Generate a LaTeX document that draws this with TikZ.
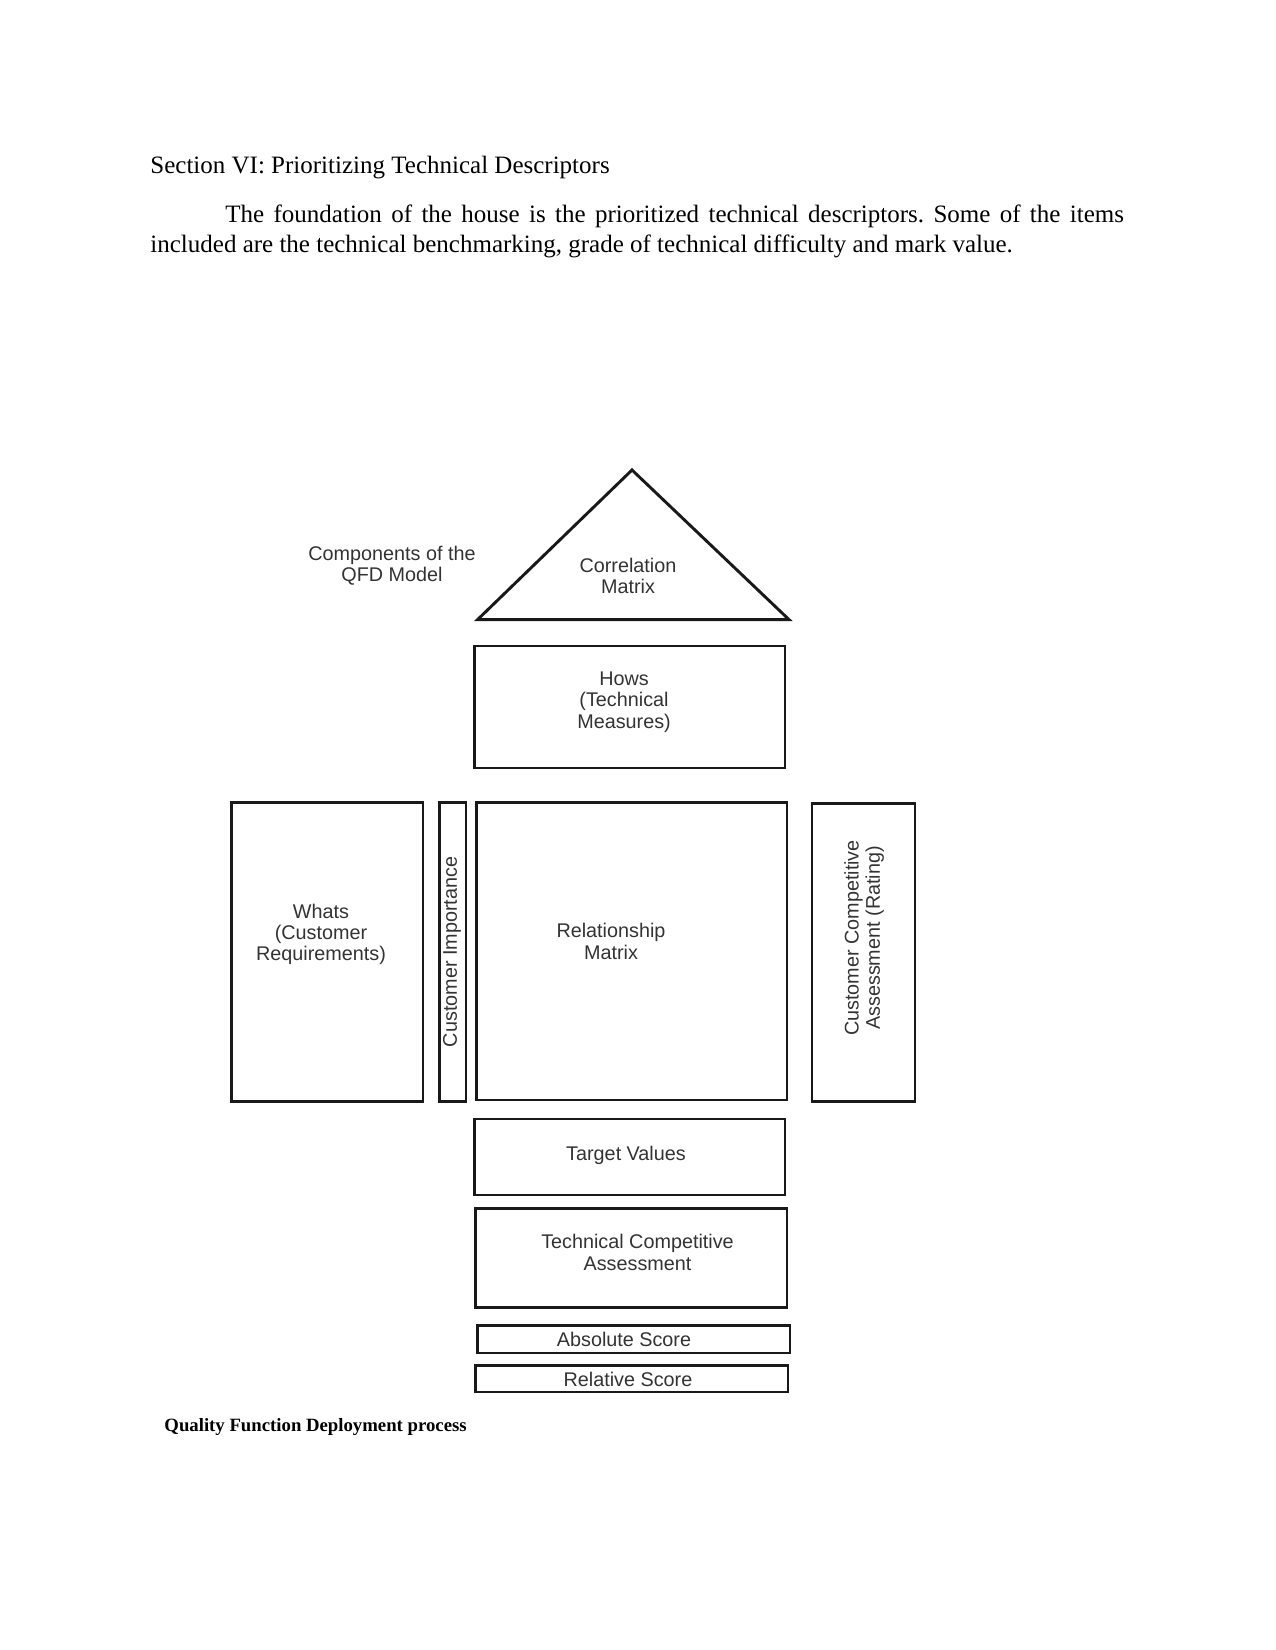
\documentclass[tikz,border=0pt]{standalone}
\usepackage{fontspec}
\setmainfont{Liberation Serif}
\newfontfamily\qfdsans{Liberation Sans}
\usetikzlibrary{positioning}

\tikzset{
  box/.style={draw=black!90, line width=1.2pt},
  lbl/.style={font=\qfdsans\fontsize{9.5}{10.2}\selectfont, text=black!80, align=center, inner sep=0pt},
  bodytext/.style={inner sep=0pt, font=\fontsize{12}{14.6}\selectfont},
}

\begin{document}
\frenchspacing
\begin{tikzpicture}[x=0.48pt, y=-0.48pt]
  \useasboundingbox (0,0) rectangle (1275,1650);
  % heading and paragraph
  \node[bodytext, anchor=base west] (head) at (150,173.5) {Section VI: Prioritizing Technical Descriptors};
  \node[bodytext, anchor=north west, text width=467.3pt, align=justify] (para) at (150,204)
    {\hspace*{36pt}The foundation of the house is the prioritized technical descriptors. Some of the items included are the technical benchmarking, grade of technical difficulty and mark value.};

  % roof
  \coordinate (apex) at (632,470);
  \coordinate (eaveL) at (477.6,619.6);
  \coordinate (eaveR) at (789,619.6);
  \draw[box, line width=1.4pt] (apex) -- (eaveL) -- (eaveR) -- cycle;

  % rooms of the house
  \foreach \xa/\ya/\xb/\yb in {474.5/646/784.8/768, 231.4/802.7/423/1101.4, 439.7/802.7/466/1101.4,
      476.6/802.7/787/1100, 812/803.7/915/1101.4, 474.5/1119/784.8/1195,
      475.5/1208.7/787/1307.6, 477.6/1325.5/790/1353, 475.5/1365.5/788/1391.8}
    \draw[box] (\xa,\ya) rectangle (\xb,\yb);

  \node[lbl] (model) at (392,566) {Components of the\\QFD Model};
  \node[lbl] (corr) at (628,576) {Correlation\\Matrix};
  \node[lbl] (hows) at (624,702) {Hows\\(Technical\\Measures)};
  \node[lbl] (whats) at (321,934.5) {Whats\\(Customer\\Requirements)};
  \node[lbl, rotate=90] (importance) at (452,952) {Customer Importance};
  \node[lbl] (relation) at (611,941.5) {Relationship\\Matrix};
  \node[lbl, rotate=90] (custcomp) at (864,938) {Customer Competitive\\Assessment (Rating)};
  \node[lbl] (target) at (626,1155) {Target Values};
  \node[lbl] (techcomp) at (637.5,1252.5) {Technical Competitive\\Assessment};
  \node[lbl] (absolute) at (624,1339.5) {Absolute Score};
  \node[lbl] (relative) at (628,1379.5) {Relative Score};

  \node[inner sep=0pt, anchor=base west, font=\bfseries\fontsize{9}{11}\selectfont] (caption) at (164,1431) {Quality Function Deployment process};
\end{tikzpicture}
\end{document}
